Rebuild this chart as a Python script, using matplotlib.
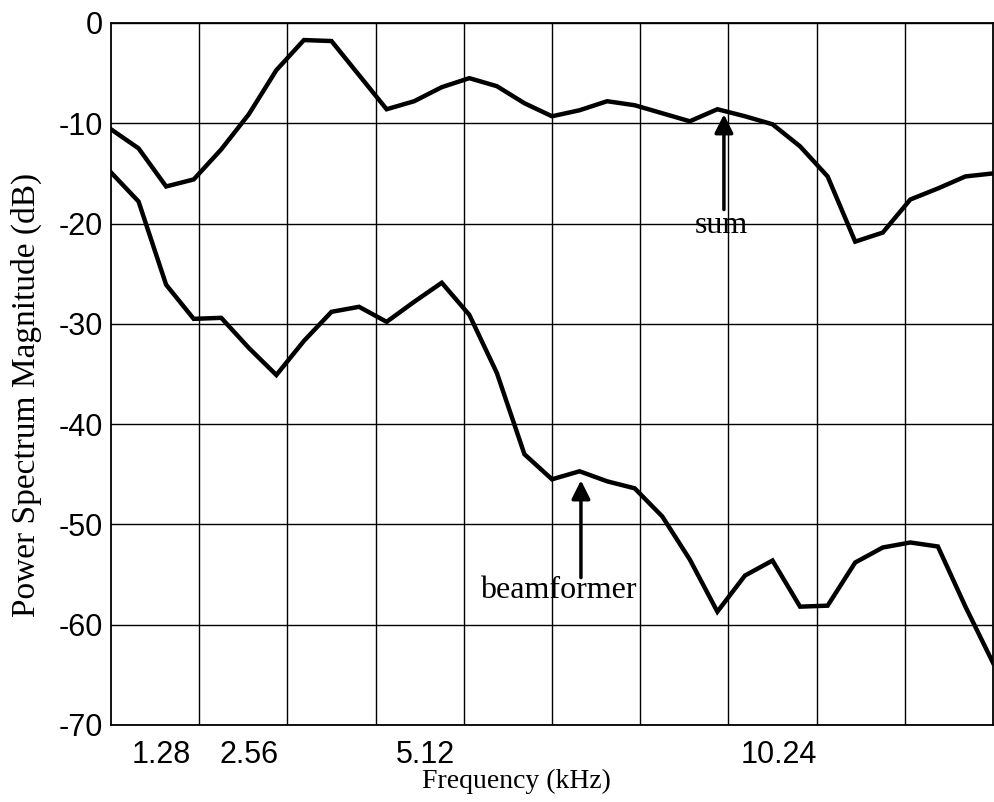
import numpy as np
import matplotlib
matplotlib.use('Agg')
import matplotlib.pyplot as plt
import matplotlib.transforms as mtransforms

plt.rcParams['axes.unicode_minus'] = False

# frequency bins (kHz)
freq = [0.64, 1.04, 1.44, 1.84, 2.24, 2.64, 3.04, 3.44, 3.84, 4.24, 4.64,
        5.04, 5.44, 5.84, 6.24, 6.64, 7.04, 7.44, 7.84, 8.24, 8.64, 9.04,
        9.44, 9.84, 10.24, 10.64, 11.04, 11.44, 11.84, 12.24, 12.64, 13.04,
        13.44]

# power spectrum of the plain sum (dB)
sum_db = [-10.6, -12.5, -16.3, -15.6, -12.6, -9.1, -4.7, -1.7, -1.8, -5.2,
          -8.6, -7.8, -6.4, -5.5, -6.3, -8.0, -9.3, -8.7, -7.8, -8.2, -9.0,
          -9.8, -8.6, -9.3, -10.1, -12.3, -15.3, -21.8, -20.9, -17.6, -16.5,
          -15.3, -15.0]

# power spectrum of the beamformer output (dB)
beam_db = [-14.9, -17.8, -26.1, -29.5, -29.4, -32.4, -35.1, -31.7, -28.8,
           -28.3, -29.8, -27.8, -25.9, -29.1, -34.9, -43.0, -45.5, -44.7,
           -45.7, -46.4, -49.2, -53.5, -58.7, -55.1, -53.6, -58.2, -58.1,
           -53.8, -52.3, -51.8, -52.2, -58.2, -63.8]

xtick_vals = [1.28, 2.56, 5.12, 10.24]
xtick_text = ['1.28', '2.56', '5.12', '10.24']
ytick_vals = [0, -10, -20, -30, -40, -50, -60, -70]

serif = ['Liberation Serif', 'DejaVu Serif']
sans = ['Liberation Sans', 'DejaVu Sans']

fig = plt.figure(figsize=(9.94, 8.02), dpi=100)
ax = fig.add_axes([111 / 994, 1 - 725 / 802, 882 / 994, 702 / 802])

ax.plot(freq, sum_db, color='k', lw=3.2, solid_joinstyle='miter')
ax.plot(freq, beam_db, color='k', lw=3.2, solid_joinstyle='miter')

ax.set_xlim(0.64, 13.44)
ax.set_ylim(-70, 0)

# grid: vertical lines every 1.28 kHz (offset), horizontal every 10 dB
ax.set_xticks(xtick_vals)
ax.set_xticklabels(xtick_text)
ax.set_xticks(np.arange(1.92, 13.4, 1.28), minor=True)
ax.set_yticks(ytick_vals)
ax.set_yticklabels([str(v) for v in ytick_vals])
ax.grid(True, which='minor', axis='x', color='k', lw=1.0)
ax.grid(True, which='major', axis='y', color='k', lw=1.0)
ax.tick_params(which='both', length=0)
ax.tick_params(axis='y', pad=6, labelsize=22)
ax.tick_params(axis='x', pad=11, labelsize=22)
for lab in ax.get_xticklabels() + ax.get_yticklabels():
    lab.set_family(sans)
# labels in the original sit slightly right of their values
off = mtransforms.ScaledTranslation(6 / 100, 0, fig.dpi_scale_trans)
for lab in ax.get_xticklabels():
    lab.set_transform(lab.get_transform() + off)

for sp in ax.spines.values():
    sp.set_linewidth(1.3)
    sp.set_color('k')

ax.set_xlabel('Frequency (kHz)', family=serif, fontsize=20)
ax.xaxis.set_label_coords(0.46, -0.062)
ax.set_ylabel('Power Spectrum Magnitude (dB)', family=serif, fontsize=24)
ax.yaxis.set_label_coords(-0.078, 0.47)

arrow = dict(arrowstyle='-|>', color='k', lw=2.5, mutation_scale=28,
             shrinkA=0, shrinkB=0)
ax.annotate('', xy=(9.535, -9.1), xytext=(9.535, -18.6), arrowprops=arrow)
ax.text(9.5, -20.9, 'sum', family=serif, fontsize=23, ha='center',
        va='baseline')
ax.annotate('', xy=(7.46, -45.6), xytext=(7.46, -55.3), arrowprops=arrow)
ax.text(7.13, -57.3, 'beamformer', family=serif, fontsize=23, ha='center',
        va='baseline')

fig.savefig('out.png', dpi=100)
